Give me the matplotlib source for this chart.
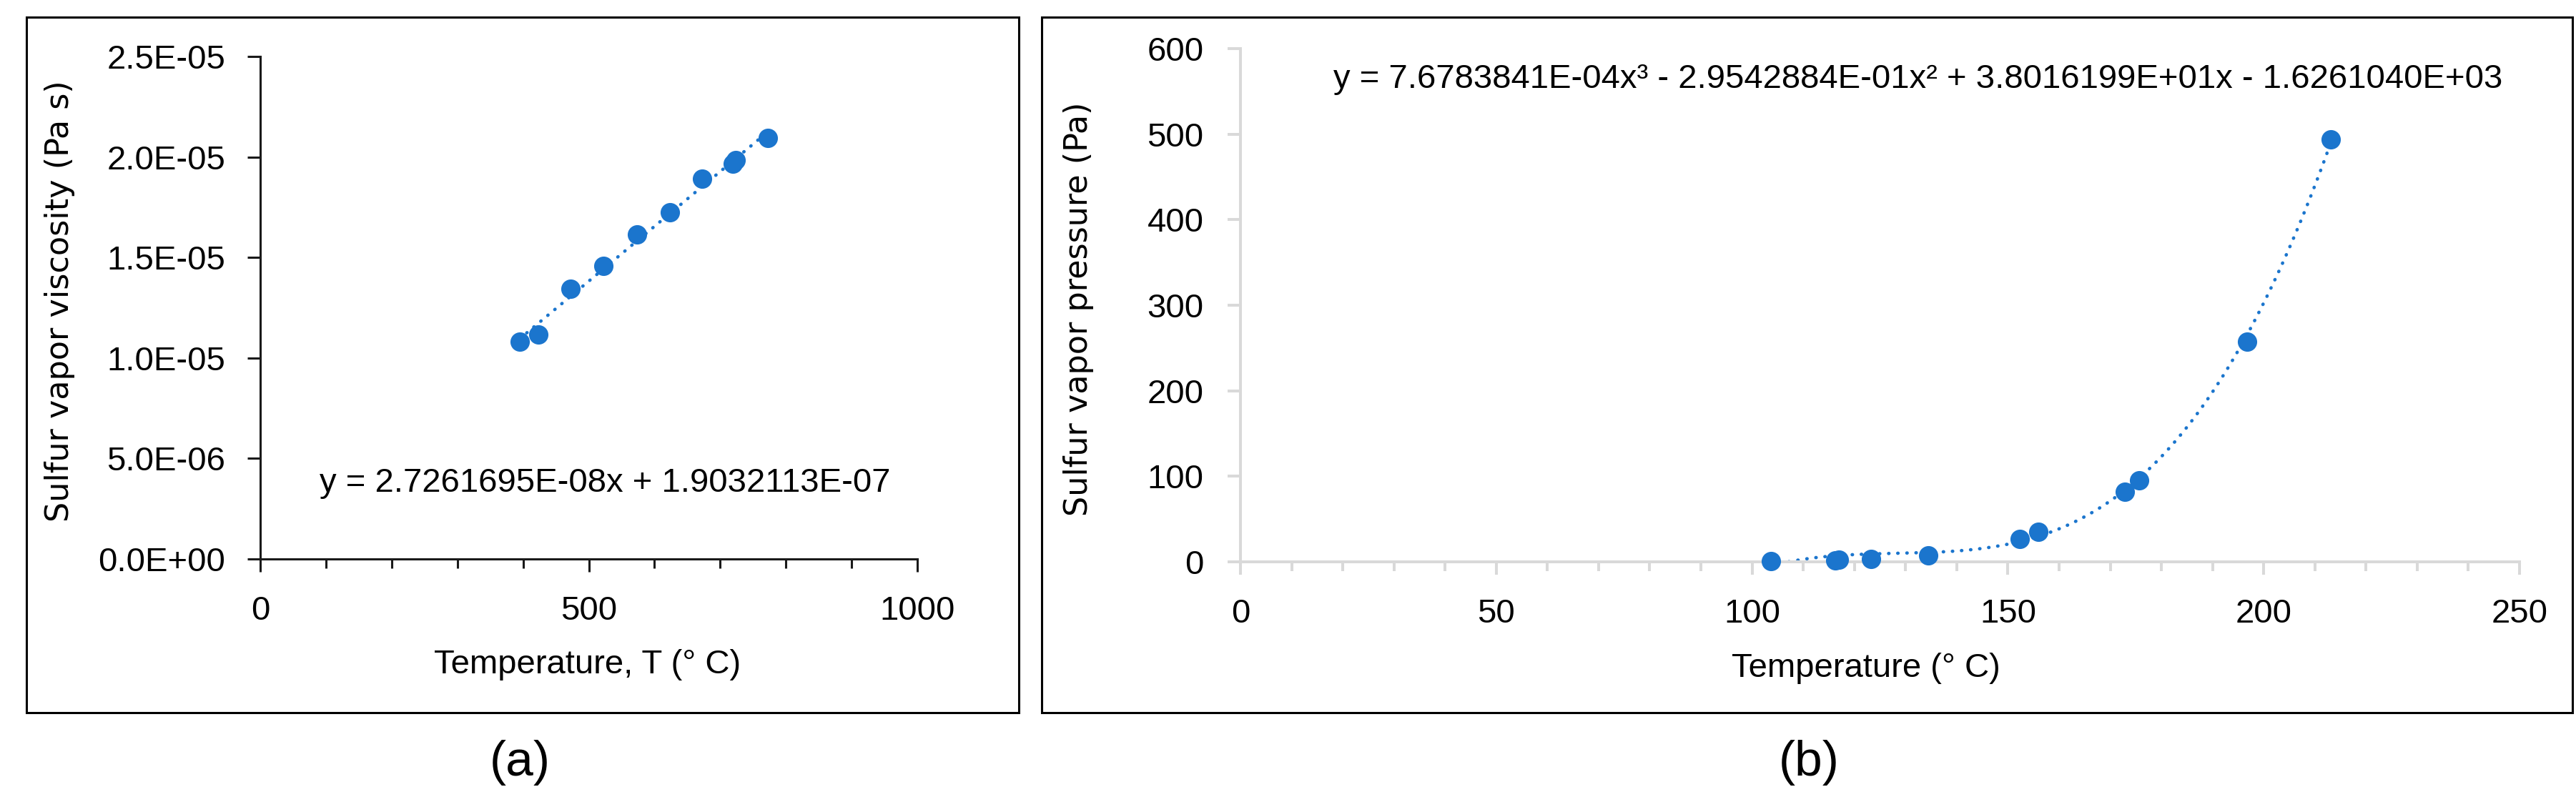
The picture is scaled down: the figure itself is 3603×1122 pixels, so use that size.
import numpy as np
import matplotlib.pyplot as plt
from matplotlib.patches import Rectangle
from matplotlib.ticker import MultipleLocator, FuncFormatter

# (a) вязкость паров серы
visc_T = [395, 423, 472, 522, 573, 623, 673, 719, 724, 773]
visc_mu = [1.080e-5, 1.116e-5, 1.343e-5, 1.459e-5, 1.615e-5,
           1.725e-5, 1.891e-5, 1.968e-5, 1.986e-5, 2.093e-5]
visc_coef = [2.7261695e-08, 1.9032113e-07]
visc_eq = "y = 2.7261695E-08x + 1.9032113E-07"

# (b) давление паров серы
press_T = [103.7, 116.2, 116.9, 123.3, 134.4, 152.3, 156.0, 172.9, 175.7, 196.8, 213.1]
press_P = [0.8, 1.9, 2.2, 3.6, 7.8, 27, 35, 82, 95, 257, 494]
press_coef = [7.6783841e-04, -2.9542884e-01, 3.8016199e+01, -1.6261040e+03]
press_eq = "y = 7.6783841E-04x\u00b3 - 2.9542884E-01x\u00b2 + 3.8016199E+01x - 1.6261040E+03"

BLUE = '#1B75CD'
NARROW = ['Liberation Sans', 'DejaVu Sans']
WIDE = ['DejaVu Sans']
FS = 34

fig = plt.figure(figsize=(36.03, 11.22), dpi=100)
W, H = 3603.0, 1122.0


def ax_rect(x0, x1, y_bot, y_top):
    return [x0 / W, 1 - y_bot / H, (x1 - x0) / W, (y_bot - y_top) / H]


def style_axis(ax, color, lw, pad_x, pad_y):
    for s in ['top', 'right']:
        ax.spines[s].set_visible(False)
    for s in ['left', 'bottom']:
        ax.spines[s].set_color(color)
        ax.spines[s].set_linewidth(lw)
    ax.tick_params(which='major', direction='out', length=13, width=lw, color=color)
    ax.tick_params(which='minor', direction='out', length=9.4, width=lw, color=color)
    ax.tick_params(axis='x', pad=pad_x, labelsize=FS)
    ax.tick_params(axis='y', pad=pad_y, labelsize=FS)
    ax.tick_params(axis='y', which='minor', left=False)
    for lab in ax.get_xticklabels() + ax.get_yticklabels():
        lab.set_family(NARROW)


def trend(ax, x, coef):
    # линия тренда по уравнению Excel, от min до max x
    xs = np.linspace(min(x), max(x), 300)
    ax.plot(xs, np.polyval(coef, xs), color=BLUE, lw=3.4,
            linestyle=(0, (0.1, 2.6)), dash_capstyle='round', zorder=2)


# ---------- (a) ----------
ax1 = fig.add_axes(ax_rect(364, 1283, 782, 79))
trend(ax1, visc_T, visc_coef)
ax1.plot(visc_T, visc_mu, 'o', color=BLUE, ms=18.5, mec=BLUE, zorder=3, clip_on=False)
ax1.set_xlim(0, 1000)
ax1.set_ylim(0, 2.5e-5)
ax1.xaxis.set_major_locator(MultipleLocator(500))
ax1.xaxis.set_minor_locator(MultipleLocator(100))
ax1.yaxis.set_major_locator(MultipleLocator(5e-6))
ax1.yaxis.set_major_formatter(FuncFormatter(lambda v, p: '{:.1E}'.format(v)))
style_axis(ax1, '#1a1a1a', 2.2, 24, 22)
ax1.text(0.5245, 0.151, visc_eq, transform=ax1.transAxes, ha='center', va='center',
         fontsize=FS, family=NARROW)

# ---------- (b) ----------
ax2 = fig.add_axes(ax_rect(1735, 3524, 786, 68))
trend(ax2, press_T, press_coef)
ax2.plot(press_T, press_P, 'o', color=BLUE, ms=18.5, mec=BLUE, zorder=3, clip_on=False)
ax2.set_xlim(0, 250)
ax2.set_ylim(0, 600)
ax2.xaxis.set_major_locator(MultipleLocator(50))
ax2.xaxis.set_minor_locator(MultipleLocator(10))
ax2.yaxis.set_major_locator(MultipleLocator(100))
style_axis(ax2, '#D9D9D9', 2.9, 24, 24)
ax2.text(0.53, 0.94, press_eq, transform=ax2.transAxes, ha='center', va='center',
         fontsize=FS, family=NARROW)

# подписи осей
fig.text(822 / W, 1 - 930 / H, 'Temperature, T (\u00b0 C)', ha='center', va='center',
         fontsize=FS, family=NARROW)
fig.text(2610 / W, 1 - 935 / H, 'Temperature (\u00b0 C)', ha='center', va='center',
         fontsize=FS, family=NARROW)
fig.text(84 / W, 1 - 421 / H, 'Sulfur vapor viscosity (Pa s)', rotation=90,
         ha='center', va='center', fontsize=32, family=WIDE)
fig.text(1509 / W, 1 - 432 / H, 'Sulfur vapor pressure (Pa)', rotation=90,
         ha='center', va='center', fontsize=32, family=WIDE)

# рамки панелей и подписи (a), (b)
for x0, x1 in [(37, 1425), (1457, 3598)]:
    fig.patches.append(Rectangle((x0 / W, 1 - 997 / H), (x1 - x0) / W, (997 - 24) / H,
                                 transform=fig.transFigure, fill=False,
                                 edgecolor='black', lw=2.2))
fig.text(727 / W, 1 - 1067 / H, '(a)', ha='center', va='center', fontsize=50, family=NARROW)
fig.text(2530 / W, 1 - 1067 / H, '(b)', ha='center', va='center', fontsize=50, family=NARROW)

fig.savefig('out.png', dpi=100, facecolor='white')
